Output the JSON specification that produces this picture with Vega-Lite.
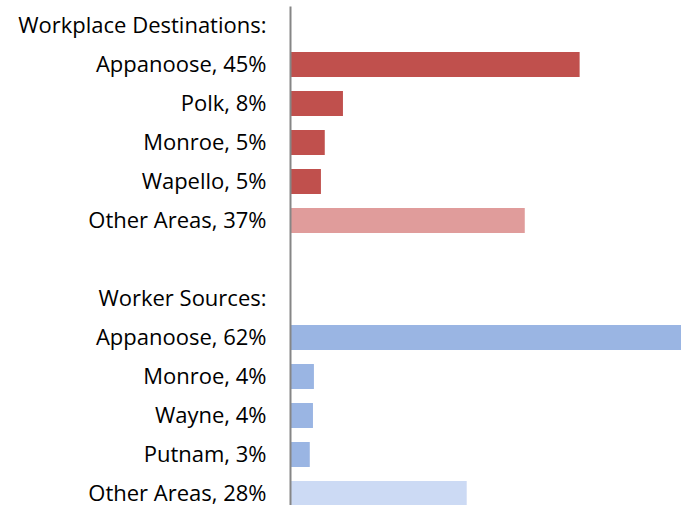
{
  "$schema": "https://vega.github.io/schema/vega-lite/v6.json",
  "autosize": {"type": "none"},
  "padding": {"left": 290, "top": 6, "right": 0, "bottom": 0},
  "width": 391,
  "height": 507,
  "background": "white",
  "data": {
    "values": [
      {"label": "Workplace Destinations:", "value": null, "kind": "wd"},
      {"label": "Appanoose, 45%", "value": 45.4, "kind": "wd"},
      {"label": "Polk, 8%", "value": 8.3, "kind": "wd"},
      {"label": "Monroe, 5%", "value": 5.45, "kind": "wd"},
      {"label": "Wapello, 5%", "value": 4.85, "kind": "wd"},
      {"label": "Other Areas, 37%", "value": 36.8, "kind": "wdo"},
      {"label": " ", "value": null, "kind": "wd"},
      {"label": "Worker Sources:", "value": null, "kind": "ws"},
      {"label": "Appanoose, 62%", "value": 62.0, "kind": "ws"},
      {"label": "Monroe, 4%", "value": 3.75, "kind": "ws"},
      {"label": "Wayne, 4%", "value": 3.6, "kind": "ws"},
      {"label": "Putnam, 3%", "value": 3.1, "kind": "ws"},
      {"label": "Other Areas, 28%", "value": 27.7, "kind": "wso"}
    ]
  },
  "mark": {"type": "bar", "clip": true},
  "encoding": {
    "y": {
      "field": "label",
      "type": "nominal",
      "scale": {
        "domain": ["Workplace Destinations:", "Appanoose, 45%", "Polk, 8%", "Monroe, 5%", "Wapello, 5%", "Other Areas, 37%", " ", "Worker Sources:", "Appanoose, 62%", "Monroe, 4%", "Wayne, 4%", "Putnam, 3%", "Other Areas, 28%"],
        "paddingInner": 0.36,
        "paddingOuter": 0.18
      },
      "axis": {
        "title": null,
        "ticks": false,
        "domainColor": "#868686",
        "domainWidth": 2,
        "labelFont": "Open Sans",
        "labelFontSize": 22,
        "labelColor": "#000000",
        "labelPadding": 24,
        "labelLimit": 320,
        "zindex": 1
      }
    },
    "x": {
      "field": "value",
      "type": "quantitative",
      "scale": {"domain": [0, 61.29], "nice": false, "zero": true},
      "axis": null
    },
    "color": {
      "field": "kind",
      "type": "nominal",
      "scale": {"domain": ["wd", "wdo", "ws", "wso"], "range": ["#C0504D", "#E09C9B", "#9AB5E3", "#CCDAF4"]},
      "legend": null
    }
  },
  "config": {"view": {"stroke": null}}
}
